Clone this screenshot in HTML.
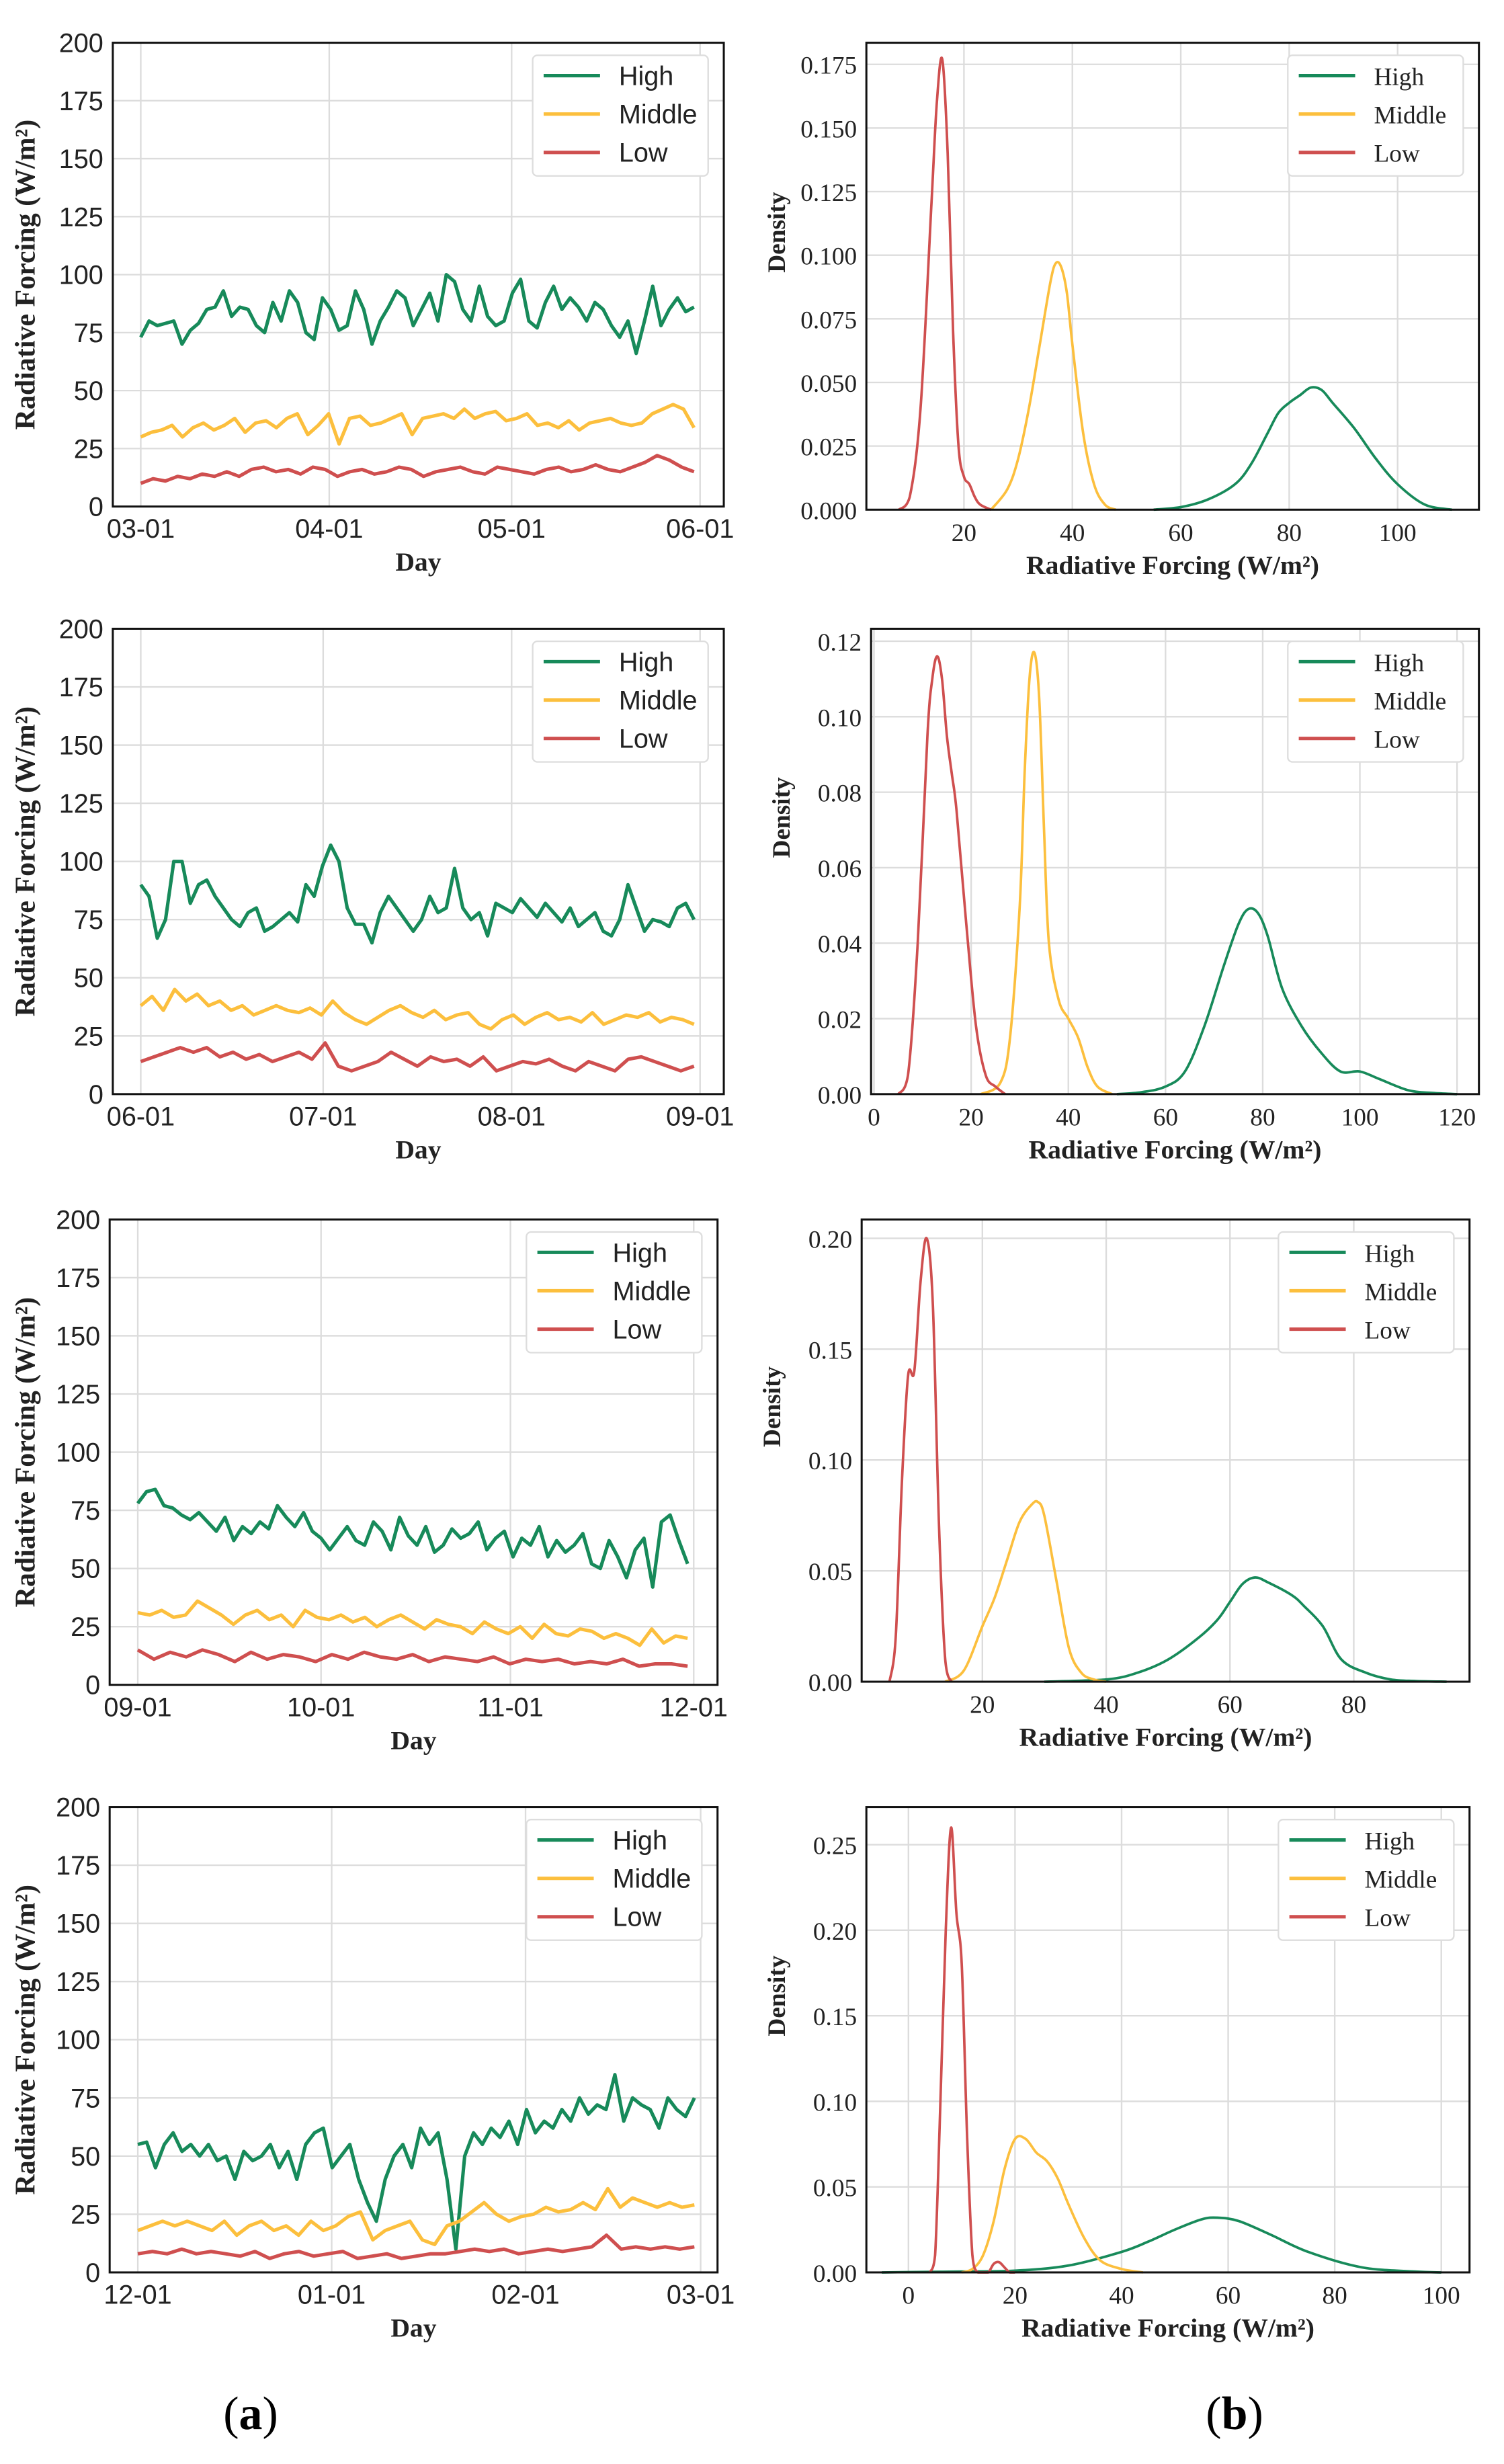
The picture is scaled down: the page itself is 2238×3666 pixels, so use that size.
<!DOCTYPE html>
<html><head><meta charset="utf-8">
<style>
html,body{margin:0;padding:0;background:#fff;}
svg{display:block;}
.sans{font-family:"Liberation Sans",sans-serif;}
.serif{font-family:"Liberation Serif",serif;}
</style></head>
<body>
<svg id="fig" width="2238" height="3666" viewBox="0 0 960 1572" xmlns="http://www.w3.org/2000/svg">
<text x="160" y="1550" text-anchor="middle" class="serif" font-size="30">(<tspan font-weight="bold">a</tspan>)</text>
<text x="788" y="1550" text-anchor="middle" class="serif" font-size="30">(<tspan font-weight="bold">b</tspan>)</text>
</svg>
<script>
// ---- time series data (left column) ----
const a1High=[73,80,78,79,80,70,76,79,85,86,93,82,86,85,78,75,88,80,93,88,75,72,90,85,76,78,93,85,70,80,86,93,90,78,85,92,80,100,97,85,80,95,82,78,80,92,98,80,77,88,95,85,90,86,80,88,85,78,73,80,66,80,95,78,85,90,84,86];
const a1Mid=[30,32,33,35,30,34,36,33,35,38,32,36,37,34,38,40,31,35,40,27,38,39,35,36,38,40,31,38,39,40,38,42,38,40,41,37,38,40,35,36,34,37,33,36,37,38,36,35,36,40,42,44,42,34];
const a1Low=[10,12,11,13,12,14,13,15,13,16,17,15,16,14,17,16,13,15,16,14,15,17,16,13,15,16,17,15,14,17,16,15,14,16,17,15,16,18,16,15,17,19,22,20,17,15];
const a2High=[90,85,67,75,100,100,82,90,92,85,80,75,72,78,80,70,72,75,78,74,90,85,98,107,100,80,73,73,65,78,85,80,75,70,75,85,78,80,97,80,75,78,68,82,80,78,84,80,76,82,78,74,80,72,75,78,70,68,75,90,80,70,75,74,72,80,82,75];
const a2Mid=[38,42,36,45,40,43,38,40,36,38,34,36,38,36,35,37,34,40,35,32,30,33,36,38,35,33,36,32,34,35,30,28,32,34,30,33,35,32,33,31,35,30,32,34,33,35,31,33,32,30];
const a2Low=[14,16,18,20,18,20,16,18,15,17,14,16,18,15,22,12,10,12,14,18,15,12,16,14,15,12,16,10,12,14,13,15,12,10,14,12,10,15,16,14,12,10,12];
const a3High=[78,83,84,77,76,73,71,74,70,66,72,62,68,65,70,67,77,72,68,74,66,63,58,63,68,62,60,70,66,58,72,64,60,68,57,60,67,63,65,70,58,63,66,55,63,60,68,55,62,57,60,65,52,50,62,55,46,58,63,42,70,73,62,52];
const a3Mid=[31,30,32,29,30,36,33,30,26,30,32,28,30,25,32,29,28,30,27,29,25,28,30,27,24,28,26,25,22,27,24,22,25,20,26,22,21,24,23,20,22,20,17,24,18,21,20];
const a3Low=[15,11,14,12,15,13,10,14,11,13,12,10,13,11,14,12,11,13,10,12,11,10,12,9,11,10,11,9,10,9,11,8,9,9,8];
const a4High=[55,56,45,55,60,52,55,50,55,48,50,40,52,48,50,55,45,52,40,55,60,62,45,50,55,40,30,22,40,50,55,45,62,55,60,40,10,50,60,55,62,58,65,55,70,60,65,62,70,65,75,68,72,70,85,65,75,72,70,62,75,70,67,75];
const a4Mid=[18,20,22,20,22,20,18,22,16,20,22,18,20,16,22,18,20,24,26,14,18,20,22,14,12,20,22,26,30,25,22,24,25,28,26,27,30,27,36,28,32,30,28,30,28,29];
const a4Low=[8,9,8,10,8,9,8,7,9,6,8,9,7,8,9,6,7,8,6,7,8,8,9,10,9,10,8,9,10,9,10,11,16,10,11,10,11,10,11];
const a1Ticks=["03-01","04-01","05-01","06-01"], a1TickDays=[0,31,61,92];
const a2Ticks=["06-01","07-01","08-01","09-01"], a2TickDays=[0,30,61,92];
const a3Ticks=["09-01","10-01","11-01","12-01"], a3TickDays=[0,30,61,91];
const a4Ticks=["12-01","01-01","02-01","03-01"], a4TickDays=[0,31,62,90];
const leftYTicks=[0,25,50,75,100,125,150,175,200];
// ---- density data (right column) ----
const b1LowX=[8,10,12,14,15,16,17,18,19,20,21,22,23,25], b1LowY=[0,0.005,0.04,0.12,0.16,0.177,0.14,0.07,0.025,0.013,0.01,0.005,0.002,0];
const b1MidX=[25,28,30,32,34,36,37,38,39,40,42,44,46,48], b1MidY=[0,0.008,0.02,0.04,0.065,0.09,0.097,0.095,0.085,0.065,0.03,0.01,0.002,0];
const b1HighX=[55,60,65,70,73,76,78,80,82,84,86,88,92,96,100,105,110], b1HighY=[0,0.001,0.004,0.01,0.018,0.03,0.038,0.042,0.045,0.048,0.047,0.042,0.032,0.02,0.01,0.002,0];
const b2LowX=[5,7,9,11,12,13,14,15,16,17,19,21,23,25,27], b2LowY=[0,0.005,0.04,0.095,0.11,0.116,0.11,0.095,0.085,0.075,0.045,0.018,0.005,0.002,0];
const b2MidX=[22,26,28,30,31,32,33,34,35,36,38,40,42,44,46,49], b2MidY=[0,0.003,0.015,0.05,0.085,0.11,0.117,0.105,0.07,0.04,0.025,0.02,0.015,0.007,0.002,0];
const b2HighX=[50,55,60,64,68,72,75,77,79,81,84,88,92,96,100,104,110,115,120], b2HighY=[0,0.0005,0.002,0.006,0.018,0.034,0.045,0.049,0.048,0.042,0.028,0.018,0.011,0.006,0.006,0.004,0.001,0.0003,0];
const b3LowX=[5,6,7,8,9,10,11,12,13,14,15], b3LowY=[0,0.02,0.09,0.138,0.14,0.18,0.2,0.17,0.07,0.01,0];
const b3MidX=[14,17,20,22,24,26,28,29,30,32,34,36,38,40], b3MidY=[0,0.005,0.025,0.038,0.055,0.072,0.08,0.081,0.075,0.045,0.015,0.004,0.001,0];
const b3HighX=[30,40,45,50,55,58,60,62,64,66,70,72,75,78,82,86,90,95], b3HighY=[0,0.001,0.004,0.01,0.02,0.028,0.036,0.044,0.047,0.045,0.039,0.034,0.025,0.01,0.004,0.001,0.0003,0];
const b4LowX=[4,5,6,7,8,9,10,11,12,13,14,15,16,17,18,19,20], b4LowY=[0,0.01,0.1,0.2,0.26,0.21,0.18,0.08,0.01,0,0,0,0.005,0.006,0.003,0,0];
const b4MidX=[10,12,14,16,18,20,22,24,26,28,30,33,36,40,44], b4MidY=[0,0.002,0.01,0.03,0.06,0.078,0.078,0.07,0.065,0.055,0.04,0.02,0.007,0.002,0];
const b4HighX=[-5,0,10,20,30,40,45,50,55,58,62,68,75,85,95,100], b4HighY=[0,0.0002,0.0005,0.001,0.004,0.012,0.018,0.025,0.031,0.032,0.03,0.022,0.012,0.003,0.0005,0];
const b1XTicks=[20,40,60,80,100], b1YTicks=[0,0.025,0.05,0.075,0.1,0.125,0.15,0.175];
const b2XTicks=[0,20,40,60,80,100,120], b2YTicks=[0,0.02,0.04,0.06,0.08,0.1,0.12];
const b3XTicks=[20,40,60,80], b3YTicks=[0,0.05,0.1,0.15,0.2];
const b4XTicks=[0,20,40,60,80,100], b4YTicks=[0,0.05,0.1,0.15,0.2,0.25];

const C={High:"#178a5a",Middle:"#fcbf3d",Low:"#cf4f4f"};
const NS="http://www.w3.org/2000/svg";
const svg=document.getElementById('fig');
function mk(tag,attrs,parent){const e=document.createElementNS(NS,tag);for(const k in attrs)e.setAttribute(k,attrs[k]);(parent||svg).appendChild(e);return e;}
function smoothPath(P,yMax){
  let d='M'+P[0][0].toFixed(2)+','+P[0][1].toFixed(2);
  for(let i=0;i<P.length-1;i++){
    const p0=P[i-1]||P[i],p1=P[i],p2=P[i+1],p3=P[i+2]||p2;
    const c1x=p1[0]+(p2[0]-p0[0])/6, c1y=Math.min(yMax,p1[1]+(p2[1]-p0[1])/6);
    const c2x=p2[0]-(p3[0]-p1[0])/6, c2y=Math.min(yMax,p2[1]-(p3[1]-p1[1])/6);
    d+=` C${c1x.toFixed(2)},${c1y.toFixed(2)} ${c2x.toFixed(2)},${c2y.toFixed(2)} ${p2[0].toFixed(2)},${p2[1].toFixed(2)}`;
  }
  return d;
}
function panel(p){
  const g=mk('g',{});
  
  
  const sx=v=>p.L+(v-p.xmin)/(p.xmax-p.xmin)*(p.R-p.L);
  const sy=v=>p.B-(v-p.ymin)/(p.ymax-p.ymin)*(p.B-p.T);
  const font=p.serif?'serif':'sans';
  p.xt.forEach((v,i)=>{
    const l=mk('line',{x1:sx(v),x2:sx(v),y1:p.T,y2:p.B,stroke:'#dcdcdc','stroke-width':1},g);
    
    
    const t=mk('text',{x:sx(v),y:p.B+20,'text-anchor':'middle',class:font,'font-size':p.serif?16:17,fill:'#222'},g);
    
    
    t.textContent=p.xl[i];
  });
  p.yt.forEach((v)=>{
    const l=mk('line',{x1:p.L,x2:p.R,y1:sy(v),y2:sy(v),stroke:'#dcdcdc','stroke-width':1},g);
    
    
    const t=mk('text',{x:p.L-6,y:sy(v)+6,'text-anchor':'end',class:font,'font-size':p.serif?16:17,fill:'#222'},g);
    
    
    t.textContent=p.yfmt(v);
  });
  p.series.forEach(s=>{
    let el;
    if(p.serif){
      const P=s.xs.map((x,i)=>[sx(x),sy(s.ys[i])]);
      el=mk('path',{d:smoothPath(P,p.B),fill:'none',stroke:C[s.k],'stroke-width':1.6,'stroke-linejoin':'round'},g);
    }else{
      const pts=s.xs.map((x,i)=>sx(x).toFixed(2)+','+sy(s.ys[i]).toFixed(2)).join(' ');
      el=mk('polyline',{points:pts,fill:'none',stroke:C[s.k],'stroke-width':2.2,'stroke-linejoin':'round'},g);
    }
    
    
  });
  const fr=mk('rect',{x:p.L,y:p.T,width:p.R-p.L,height:p.B-p.T,fill:'none',stroke:'#111','stroke-width':1.3},g);
  
  
  const lx=p.R-122, ly=p.T+8;
  const lg=mk('rect',{x:lx,y:ly,width:112,height:77,rx:3,fill:'#fff',stroke:'#ddd','stroke-width':1},g);
  
  
  ['High','Middle','Low'].forEach((k,i)=>{
    const y=ly+13+i*24.5;
    const l=mk('line',{x1:lx+7,x2:lx+43,y1:y,y2:y,stroke:C[k],'stroke-width':2.2},g);
    
    
    const t=mk('text',{x:lx+55,y:y+6,class:font,'font-size':p.serif?16:17,fill:'#222'},g);
    
    
    t.textContent=k;
  });
  const xt=mk('text',{x:(p.L+p.R)/2,y:p.B+41,'text-anchor':'middle',class:'serif','font-size':17,'font-weight':'bold',fill:'#222'},g);
  
  
  xt.textContent=p.xtitle;
  const yx=p.serif?p.L-52:22, yy=(p.T+p.B)/2+(p.serif?-28:0);
  const yt=mk('text',{x:yx,y:yy,'text-anchor':'middle',class:'serif','font-size':p.serif?16:18,'font-weight':'bold',fill:'#222',transform:`rotate(-90 ${yx} ${yy})`},g);
  
  
  yt.textContent=p.ytitle;
}
function spread(arr,span){return arr.map((_,i)=>i*span/(arr.length-1));}
const RF="Radiative Forcing (W/m²)";
function leftPanel(name,L,R,T,B,xmin,xmax,ticks,tickDays,span,hi,mi,lo){
  panel({name,L,R,T,B,xmin,xmax,ymin:0,ymax:200,xt:tickDays,xl:ticks,yt:leftYTicks,yfmt:v=>String(v),serif:false,xtitle:'Day',ytitle:RF,
    series:[{k:'High',xs:spread(hi,span),ys:hi},{k:'Middle',xs:spread(mi,span),ys:mi},{k:'Low',xs:spread(lo,span),ys:lo}]});
}
leftPanel('chart-a1',72,462,27,323,-4.6,95.9,a1Ticks,a1TickDays,91,a1High,a1Mid,a1Low);
leftPanel('chart-a2',72,462,401,698,-4.6,95.9,a2Ticks,a2TickDays,91,a2High,a2Mid,a2Low);
leftPanel('chart-a3',70,458,778,1075,-4.6,94.9,a3Ticks,a3TickDays,90,a3High,a3Mid,a3Low);
leftPanel('chart-a4',70,458,1153,1450,-4.5,92.7,a4Ticks,a4TickDays,89,a4High,a4Mid,a4Low);
function rightPanel(name,L,R,T,B,xmin,xmax,ymax,xt,yt,dec,hx,hy,mx,my,lx,ly){
  panel({name,L,R,T,B,xmin,xmax,ymin:0,ymax,xt,xl:xt.map(String),yt,yfmt:v=>v.toFixed(dec),serif:true,xtitle:RF,ytitle:'Density',
    series:[{k:'High',xs:hx,ys:hy},{k:'Middle',xs:mx,ys:my},{k:'Low',xs:lx,ys:ly}]});
}
rightPanel('chart-b1',553,944,27,325,2.0,115,0.1835,b1XTicks,b1YTicks,3,b1HighX,b1HighY,b1MidX,b1MidY,b1LowX,b1LowY);
rightPanel('chart-b2',556,944,401,698,-0.6,124.5,0.1233,b2XTicks,b2YTicks,2,b2HighX,b2HighY,b2MidX,b2MidY,b2LowX,b2LowY);
rightPanel('chart-b3',550,938,778,1073,0.5,98.7,0.2085,b3XTicks,b3YTicks,2,b3HighX,b3HighY,b3MidX,b3MidY,b3LowX,b3LowY);
rightPanel('chart-b4',553,938,1153,1450,-7.9,105.3,0.272,b4XTicks,b4YTicks,2,b4HighX,b4HighY,b4MidX,b4MidY,b4LowX,b4LowY);
</script>
</body></html>
